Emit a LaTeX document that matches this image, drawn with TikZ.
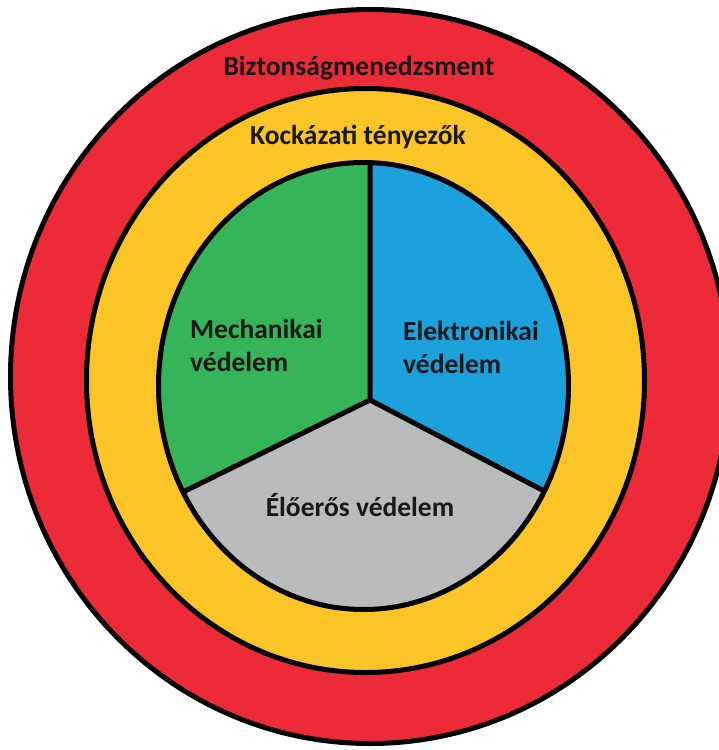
\documentclass[tikz,border=0pt]{standalone}
\usepackage{fontspec}
\setmainfont{Carlito}

\definecolor{ringred}{RGB}{237,42,56}
\definecolor{ringyellow}{RGB}{252,197,39}
\definecolor{mechgreen}{RGB}{54,180,90}
\definecolor{elecblue}{RGB}{29,161,220}
\definecolor{guardgray}{RGB}{185,187,189}

\tikzset{
  lbl/.style={font=\bfseries\fontsize{27.5}{33}\selectfont,text=black!90,inner sep=0pt,align=left},
  ring/.style={draw=black,line width=5pt}
}

\begin{document}
\begin{tikzpicture}[x=1pt,y=-1pt,line join=round]

\useasboundingbox (0,0) rectangle (719,750);
\clip (0,0) rectangle (719,750);

% Rings: management outside, risk factors inside it
\draw[ring,fill=ringred] (370,376.5) ellipse [x radius=359.5pt, y radius=367pt];
\draw[ring,fill=ringyellow] (365.5,380.5) ellipse [x radius=279pt, y radius=292pt];

% Hub of the pie and the ends of the three spokes
\coordinate (hub) at (370,400);
\coordinate (top) at (370,160);
\coordinate (lft) at (183,492);
\coordinate (rgt) at (546,492);

% Fill the three sectors
\begin{scope}
  \clip (363.5,386) ellipse [x radius=205pt, y radius=223.5pt];
  \fill[mechgreen] (hub) -- (370,100) -- (90,100) -- (90,538) -- cycle;
  \fill[elecblue] (hub) -- (370,100) -- (640,100) -- (640,541) -- cycle;
  \fill[guardgray] (hub) -- (90,538) -- (90,650) -- (640,650) -- (640,541) -- cycle;
\end{scope}
\draw[ring] (363.5,386) ellipse [x radius=205pt, y radius=223.5pt];
\draw[ring] (top) -- (hub) -- (lft);
\draw[ring] (hub) -- (rgt);

% Labels
\node[lbl] (mgmt) at (359,68) {Biztonságmenedzsment};
\node[lbl] (risk) at (358,137) {Kockázati tényezők};
\node[lbl,anchor=west] (mech) at (190,345) {Mechanikai\\védelem};
\node[lbl,anchor=west] (elec) at (403,347) {Elektronikai\\védelem};
\node[lbl] (guard) at (360,505) {Élőerős védelem};
\end{tikzpicture}
\end{document}
